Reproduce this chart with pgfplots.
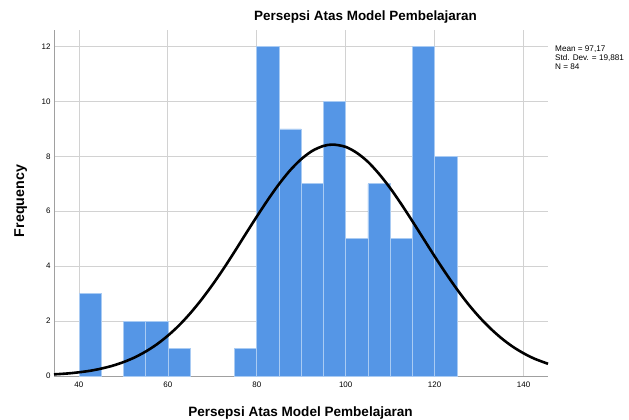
\documentclass[border=0pt]{standalone}
\usepackage{pgfplots}
\pgfplotsset{compat=1.18}
\usepackage{fontspec}
\setmainfont{Liberation Sans}
\definecolor{barblue}{HTML}{5596E6}
\definecolor{baredge}{HTML}{A9CBF3}
\definecolor{gridgray}{HTML}{D2D2D2}
\definecolor{axgray}{HTML}{A0A0A0}
\begin{document}
\begin{tikzpicture}[x=1bp,y=1bp]
\path[use as bounding box] (0,0) rectangle (629,419);
\begin{axis}[
  at={(54bp,43bp)}, anchor=south west,
  scale only axis, width=494bp, height=346bp,
  xmin=34.4, xmax=145.5, ymin=0, ymax=12.6,
  xtick={40,60,...,140}, ytick={0,2,...,12},
  grid=major, major grid style={gridgray, line width=0.8pt},
  axis x line*=bottom, axis y line*=left,
  axis line style={axgray, line width=1pt, -},
  major tick length=0pt,
  tick label style={font=\fontsize{8}{9}\selectfont, text=black},
  xticklabel style={yshift=-2bp},
  /pgf/number format/assume math mode=true,
  clip=false,
]
\addplot[ybar interval, fill=barblue, draw=baredge, line width=0.6pt] coordinates {(40,3) (45,3)};
\addplot[ybar interval, fill=barblue, draw=baredge, line width=0.6pt] coordinates {(50,2) (55,2) (60,1) (65,1)};
\addplot[ybar interval, fill=barblue, draw=baredge, line width=0.6pt] coordinates {
(75,1) (80,12) (85,9) (90,7) (95,10) (100,5) (105,7) (110,5) (115,12) (120,8) (125,8)};
\addplot[black, line width=2.6pt, smooth] coordinates {
(34.4,0.060) (37.5,0.093) (40,0.135) (42.5,0.190) (45,0.269) (47.5,0.371) (50,0.505) (52.5,0.674)
(55,0.889) (57.5,1.150) (60,1.468) (62.5,1.840) (65,2.276) (67.5,2.768) (70,3.312) (72.5,3.900)
(75,4.526) (77.5,5.170) (80,5.804) (82.5,6.417) (85,6.988) (87.5,7.490) (90,7.897) (92.5,8.200)
(95,8.378) (97.17,8.428) (100,8.343) (102.5,8.126) (105,7.799) (107.5,7.360) (110,6.844) (112.5,6.260)
(115,5.637) (117.5,4.998) (120,4.359) (122.5,3.745) (125,3.164) (127.5,2.630) (130,2.156)
(132.5,1.740) (135,1.379) (137.5,1.075) (140,0.828) (142.5,0.627) (145.5,0.445)};
\end{axis}
\node[font=\bfseries\fontsize{13.5}{15}\selectfont, anchor=base, inner sep=0pt] at (365.5,398.3) {Persepsi Atas Model Pembelajaran};
\node[font=\bfseries\fontsize{13.6}{15}\selectfont, anchor=base, inner sep=0pt] at (300.5,3) {Persepsi Atas Model Pembelajaran};
\node[font=\bfseries\fontsize{14.3}{16}\selectfont, rotate=90, anchor=base, inner sep=0pt] at (24,218) {Frequency};
\node[font=\fontsize{8.2}{8.6}\selectfont, anchor=north west, align=left, inner sep=0pt] at (555,373) {Mean = 97,17\\Std. Dev. = 19,881\\N = 84};
\end{tikzpicture}
\end{document}
